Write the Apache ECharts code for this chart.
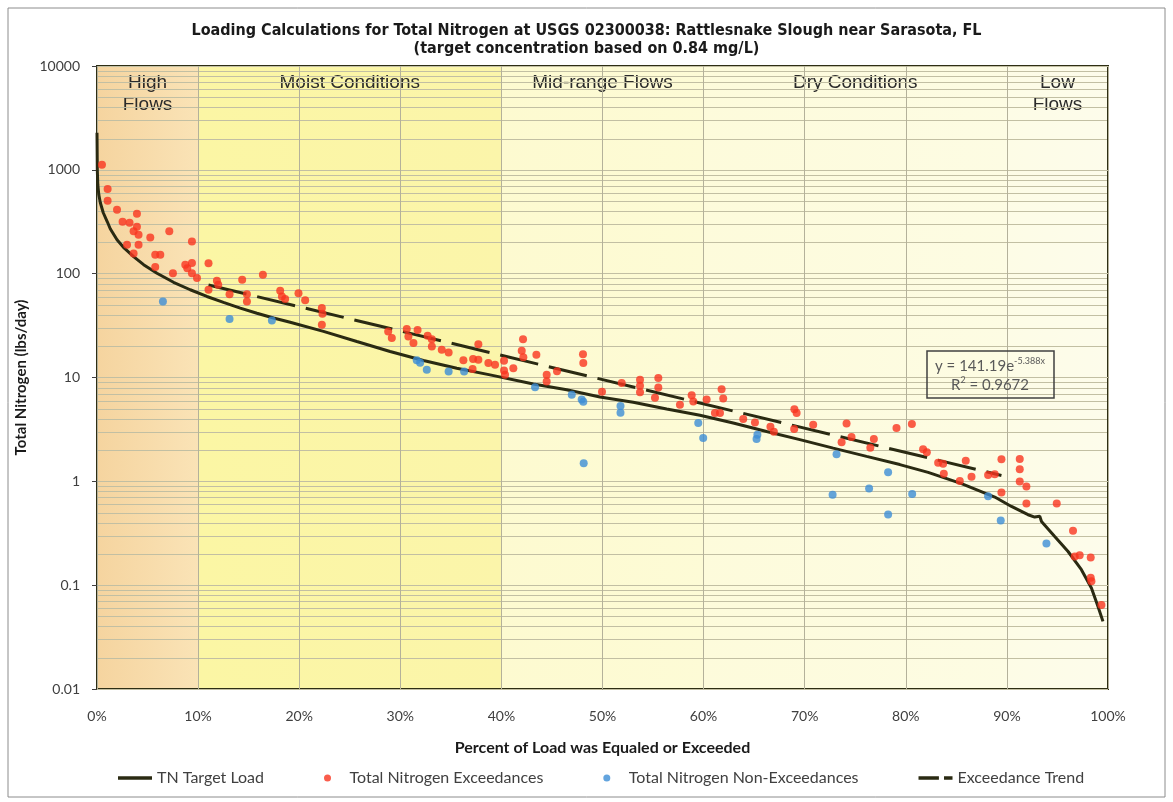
<!DOCTYPE html>
<html>
<head>
<meta charset="utf-8">
<title>Loading Calculations for Total Nitrogen</title>
<script src="https://cdn.jsdelivr.net/npm/echarts@6/dist/echarts.min.js"></script>
<style>
  html, body { margin: 0; padding: 0; background: #ffffff; }
  #chart { width: 1173px; height: 802px; }
</style>
</head>
<body>
<div id="chart"></div>
<script>
// Flow-condition zones along the duration axis (percent of time exceeded)
const zoneNames = ['High\nFlows', 'Moist Conditions', 'Mid-range Flows', 'Dry Conditions', 'Low\nFlows'];
const zoneBounds = [0, 10, 40, 60, 90, 100];

// TN target load duration curve: percent exceeded vs. load (lbs/day)
const targetPct = [0, 0.03, 0.08, 0.18, 0.33, 0.62, 1.02, 1.31, 1.98, 2.7, 3.62, 4.61, 5.93, 7.57, 9.22,
  10.87, 12.51, 14.17, 15.82, 17.46, 19.11, 22.4, 25.7, 28.99, 32.29, 35.59, 38.88,
  43.16, 46.46, 49.75, 53.04, 56.35, 59.64, 62.93, 66.23, 69.52, 72.82, 76.12, 79.41,
  82.21, 85.51, 88.8, 90.45, 92.09, 92.75, 93.25, 93.42, 94.73, 96.05, 97.37, 98.36, 99.01, 99.5];
const targetLoad = [2280, 1000, 718, 575, 482, 386, 316, 271, 212, 176, 146, 122, 101, 82.6, 70.0,
  60.3, 53.0, 46.6, 41.6, 37.4, 34.0, 27.8, 22.2, 17.8, 14.6, 12.3, 10.6,
  8.66, 7.62, 6.50, 5.78, 4.98, 4.33, 3.64, 3.02, 2.52, 2.09, 1.74, 1.45,
  1.22, 0.949, 0.706, 0.573, 0.477, 0.453, 0.462, 0.411, 0.294, 0.211, 0.141, 0.094, 0.0624, 0.0448];

// Samples whose load exceeds the target
const exceedPct = [0.49, 1.05, 1.05, 1.98, 3.95, 2.53, 3.22, 3.95, 3.62, 4.11, 7.15, 5.27, 2.97, 4.11,
  9.39, 3.62, 5.76, 6.26, 5.76, 7.51, 8.73, 9.39, 8.93, 9.39, 9.89,
  11.03, 11.86, 11.99, 11.03, 13.11, 14.36, 16.41, 14.83, 14.83, 18.12, 18.29, 18.61, 19.93,
  20.59, 22.24, 22.3, 22.24, 28.8, 29.16,
  30.64, 31.71, 30.8, 31.3, 32.7, 33.12, 33.12, 34.1, 34.78, 37.72, 36.24, 37.2, 37.72, 38.71, 39.37, 37.15, 40.26, 40.26,
  40.36, 41.18, 42.14, 42.01, 42.17, 43.46, 44.48, 44.48, 45.5, 48.07, 48.1,
  49.95, 51.9, 53.71, 53.71, 53.71, 55.52, 55.52, 55.19, 57.66, 58.82, 58.98,
  60.3, 61.78, 61.94, 61.12, 61.62, 63.92, 65.08, 66.61, 66.95, 68.98, 69.2, 68.96,
  70.84, 74.14, 74.63, 73.65, 76.84, 76.49, 79.08, 80.6,
  81.71, 82.08, 83.2, 83.69, 85.93, 83.76, 85.34, 86.5, 88.14, 88.8, 89.46, 91.27, 91.27, 91.27,
  91.93, 89.46, 91.93, 94.93, 96.54, 96.71, 97.2, 98.29, 98.29, 98.36, 99.35];
const exceedLoad = [1120, 653, 504, 412, 378, 316, 309, 283, 256, 237, 256, 223, 190, 190,
  204, 156, 152, 152, 116, 101, 122, 127, 113, 101, 90.8,
  126, 85.5, 78.2, 70.0, 63.4, 87.4, 97.6, 63.4, 54.0, 68.4, 60.3, 56.9, 64.7,
  55.5, 46.7, 41.1, 32.2, 27.8, 24.0,
  29.3, 28.6, 24.8, 21.5, 25.2, 23.3, 19.9, 18.5, 17.4, 20.9, 14.7, 15.1, 14.8, 13.8, 13.3, 12.1, 14.5, 11.7,
  10.6, 12.3, 23.4, 18.1, 15.7, 16.6, 10.6, 9.16, 11.5, 16.7, 13.8,
  7.29, 8.85, 9.51, 8.33, 7.21, 9.88, 8.00, 6.38, 5.47, 6.75, 5.88,
  6.15, 7.71, 6.27, 4.55, 4.55, 3.98, 3.69, 3.36, 3.01, 4.94, 4.55, 3.19,
  3.51, 3.60, 2.67, 2.38, 2.55, 2.11, 3.26, 3.56,
  2.04, 1.91, 1.51, 1.48, 1.58, 1.18, 1.01, 1.11, 1.15, 1.17, 1.63, 1.64, 1.31, 0.998,
  0.893, 0.782, 0.612, 0.612, 0.334, 0.189, 0.194, 0.185, 0.118, 0.109, 0.0644];

// Samples at or below the target
const nonExceedPct = [6.52, 13.11, 17.3, 31.63, 31.96, 32.62, 34.78, 36.31, 43.33, 46.96, 47.94, 48.1,
  51.78, 51.78, 48.14, 59.47, 59.96, 65.32, 65.24, 73.15, 72.76, 76.37, 78.25, 78.25, 80.63,
  88.14, 89.39, 93.91];
const nonExceedLoad = [54.0, 36.6, 35.4, 14.7, 13.9, 11.9, 11.4, 11.4, 8.06, 6.82, 6.15, 5.84,
  5.31, 4.58, 1.49, 3.64, 2.61, 2.81, 2.55, 1.82, 0.743, 0.855, 1.22, 0.480, 0.757,
  0.718, 0.420, 0.252];

// End points of the exceedance fit y = 141.19e^(-5.388x)
const trendPct = [11.03, 89.46];
const trendLoad = [77.9, 1.14];

// Axis tick text
const yTickLabels = ['0.01', '0.1', '1', '10', '100', '1000', '10000'];
const xTickSuffix = '%';

// Axis ranges
const X_MIN = 0, X_MAX = 100, Y_MIN = 0.01, Y_MAX = 10000;

// Fills for each flow zone, left to right
const zoneFills = [
  ['#F5D49F', '#FAE3B6'],
  ['#FBF6A4', '#FBF5AA'],
  ['#FDFAD0', '#FDFBD6'],
  ['#FDFBDB', '#FDFCE3'],
  ['#FDFCE6', '#FDFCEB']
];

const INK = '#2A2A12';
const RED = '#F9341F';
const BLUE = '#3C8DD6';
const GRID_LINE = '#C2BFA3';
const LABEL_FONT = 'Lato, "Open Sans", sans-serif';

const pairs = (xs, ys) => xs.map((x, i) => [x, ys[i]]);

// log-scale minor gridlines at 2..9 within every decade
const minorTicks = [];
for (let e = -2; e < 4; e++) {
  for (let k = 2; k <= 9; k++) {
    minorTicks.push(Number((k * Math.pow(10, e)).toPrecision(3)));
  }
}

const chart = echarts.init(document.getElementById('chart'), null, { renderer: 'canvas' });

const option = {
  animation: false,
  backgroundColor: '#ffffff',
  title: {
    text: 'Loading Calculations for Total Nitrogen at USGS 02300038: Rattlesnake Slough near Sarasota, FL\n(target concentration based on 0.84 mg/L)',
    left: 'center',
    top: 17,
    textStyle: {
      fontFamily: '"Liberation Sans Narrow", "DejaVu Sans Condensed", "Liberation Sans", sans-serif',
      fontWeight: 'bold',
      fontSize: 16,
      lineHeight: 18,
      color: '#1a1a1a'
    }
  },
  grid: {
    left: 97, right: 65, top: 66, bottom: 113,
    show: true,
    borderColor: '#2E2E14',
    borderWidth: 2,
    backgroundColor: 'transparent',
    outerBoundsMode: 'none'
  },
  legend: {
    data: [
      { name: 'TN Target Load', icon: 'path://M0,0H40V4H0Z' },
      { name: 'Total Nitrogen Exceedances', icon: 'circle' },
      { name: 'Total Nitrogen Non-Exceedances', icon: 'circle' },
      { name: 'Exceedance Trend', icon: 'path://M0,0H24V4H0ZM30,0H40V4H30Z' }
    ],
    left: 113,
    top: 765,
    itemWidth: 34,
    itemHeight: 7,
    itemGap: 60,
    selectedMode: false,
    textStyle: { fontFamily: LABEL_FONT, fontSize: 16, color: '#404040' }
  },
  xAxis: {
    type: 'value',
    min: X_MIN,
    max: X_MAX,
    interval: 10,
    name: 'Percent of Load was Equaled or Exceeded',
    nameLocation: 'middle',
    nameGap: 51,
    nameTextStyle: { fontFamily: LABEL_FONT, fontWeight: 'bold', fontSize: 16, color: '#1a1a1a' },
    axisLine: { show: false },
    axisTick: { show: false },
    axisLabel: {
      margin: 20,
      fontFamily: LABEL_FONT,
      fontSize: 14,
      color: '#404040',
      formatter: v => v + xTickSuffix
    },
    splitLine: { show: true, lineStyle: { color: '#B4B19A', width: 1 } }
  },
  yAxis: {
    type: 'log',
    logBase: 10,
    min: Y_MIN,
    max: Y_MAX,
    splitNumber: 6,
    name: 'Total Nitrogen (lbs/day)',
    nameLocation: 'middle',
    nameGap: 66,
    nameTextStyle: { fontFamily: LABEL_FONT, fontWeight: 'bold', fontSize: 15, color: '#1a1a1a' },
    axisLine: { show: false },
    axisTick: { show: true, length: 5, lineStyle: { color: '#404040' } },
    axisLabel: {
      margin: 17,
      fontFamily: LABEL_FONT,
      fontSize: 14,
      color: '#404040',
      formatter: v => yTickLabels[Math.round(Math.log10(v)) + 2]
    },
    splitLine: { show: true, lineStyle: { color: GRID_LINE, width: 1 } }
  },
  series: [
    {
      // shaded flow zones with their captions
      type: 'custom',
      name: 'zones',
      silent: true,
      z: -3,
      data: zoneNames.map((n, i) => [zoneBounds[i], zoneBounds[i + 1]]),
      renderItem: (params, api) => {
        const i = params.dataIndex;
        const tl = api.coord([api.value(0), Y_MAX]);
        const br = api.coord([api.value(1), Y_MIN]);
        return {
          type: 'group',
          children: [
            {
              type: 'rect',
              shape: { x: tl[0], y: tl[1], width: br[0] - tl[0], height: br[1] - tl[1] },
              style: {
                fill: new echarts.graphic.LinearGradient(0, 0, 1, 0, [
                  { offset: 0, color: zoneFills[i][0] },
                  { offset: 1, color: zoneFills[i][1] }
                ])
              }
            },
            {
              type: 'text',
              x: (tl[0] + br[0]) / 2,
              y: tl[1] + 6,
              style: {
                text: zoneNames[i],
                align: 'center',
                verticalAlign: 'top',
                fontFamily: '"Liberation Sans", Arial, sans-serif',
                fontSize: 19,
                lineHeight: 22,
                fill: '#2b2b2b'
              }
            }
          ]
        };
      }
    },
    {
      // minor log gridlines
      type: 'custom',
      name: 'minorGrid',
      silent: true,
      z: -2,
      data: minorTicks.map(v => [X_MIN, v]),
      renderItem: (params, api) => {
        const a = api.coord([X_MIN, api.value(1)]);
        const b = api.coord([X_MAX, api.value(1)]);
        const y = Math.round(a[1]) + 0.5;
        return {
          type: 'line',
          shape: { x1: a[0], y1: y, x2: b[0], y2: y },
          style: { stroke: GRID_LINE, lineWidth: 1 }
        };
      }
    },
    {
      name: 'TN Target Load',
      type: 'line',
      data: pairs(targetPct, targetLoad),
      symbol: 'none',
      smooth: false,
      z: 3,
      itemStyle: { color: INK },
      lineStyle: { color: INK, width: 3 }
    },
    {
      name: 'Exceedance Trend',
      type: 'line',
      data: pairs(trendPct, trendLoad),
      symbol: 'none',
      z: 3,
      itemStyle: { color: INK },
      lineStyle: { color: INK, width: 3, type: [39, 11] }
    },
    {
      name: 'Total Nitrogen Exceedances',
      type: 'scatter',
      data: pairs(exceedPct, exceedLoad),
      symbol: 'circle',
      symbolSize: 8,
      z: 4,
      itemStyle: { color: RED }
    },
    {
      name: 'Total Nitrogen Non-Exceedances',
      type: 'scatter',
      data: pairs(nonExceedPct, nonExceedLoad),
      symbol: 'circle',
      symbolSize: 8,
      z: 4,
      itemStyle: { color: BLUE }
    }
  ],
  graphic: [
    {
      // outer chart frame
      type: 'rect',
      shape: { x: 8, y: 8, width: 1157, height: 789 },
      style: { fill: 'none', stroke: '#8C8C8C', lineWidth: 1 },
      silent: true
    },
    {
      // fit equation box
      type: 'rect',
      shape: { x: 927, y: 351, width: 127, height: 47 },
      style: { fill: 'none', stroke: '#404040', lineWidth: 1.5 },
      silent: true,
      z: 10
    },
    {
      type: 'text',
      x: 990,
      y: 357,
      z: 10,
      silent: true,
      style: {
        text: '{b|y = 141.19e}{s|-5.388x}\n{b|R}{s|2}{b| = 0.9672}',
        align: 'center',
        verticalAlign: 'top',
        rich: {
          b: { fontFamily: LABEL_FONT, fontSize: 15, lineHeight: 19, fill: '#595959', color: '#595959' },
          s: { fontFamily: LABEL_FONT, fontSize: 9, lineHeight: 19, verticalAlign: 'top', fill: '#595959', color: '#595959' }
        }
      }
    }
  ]
};

chart.setOption(option);
</script>
</body>
</html>
